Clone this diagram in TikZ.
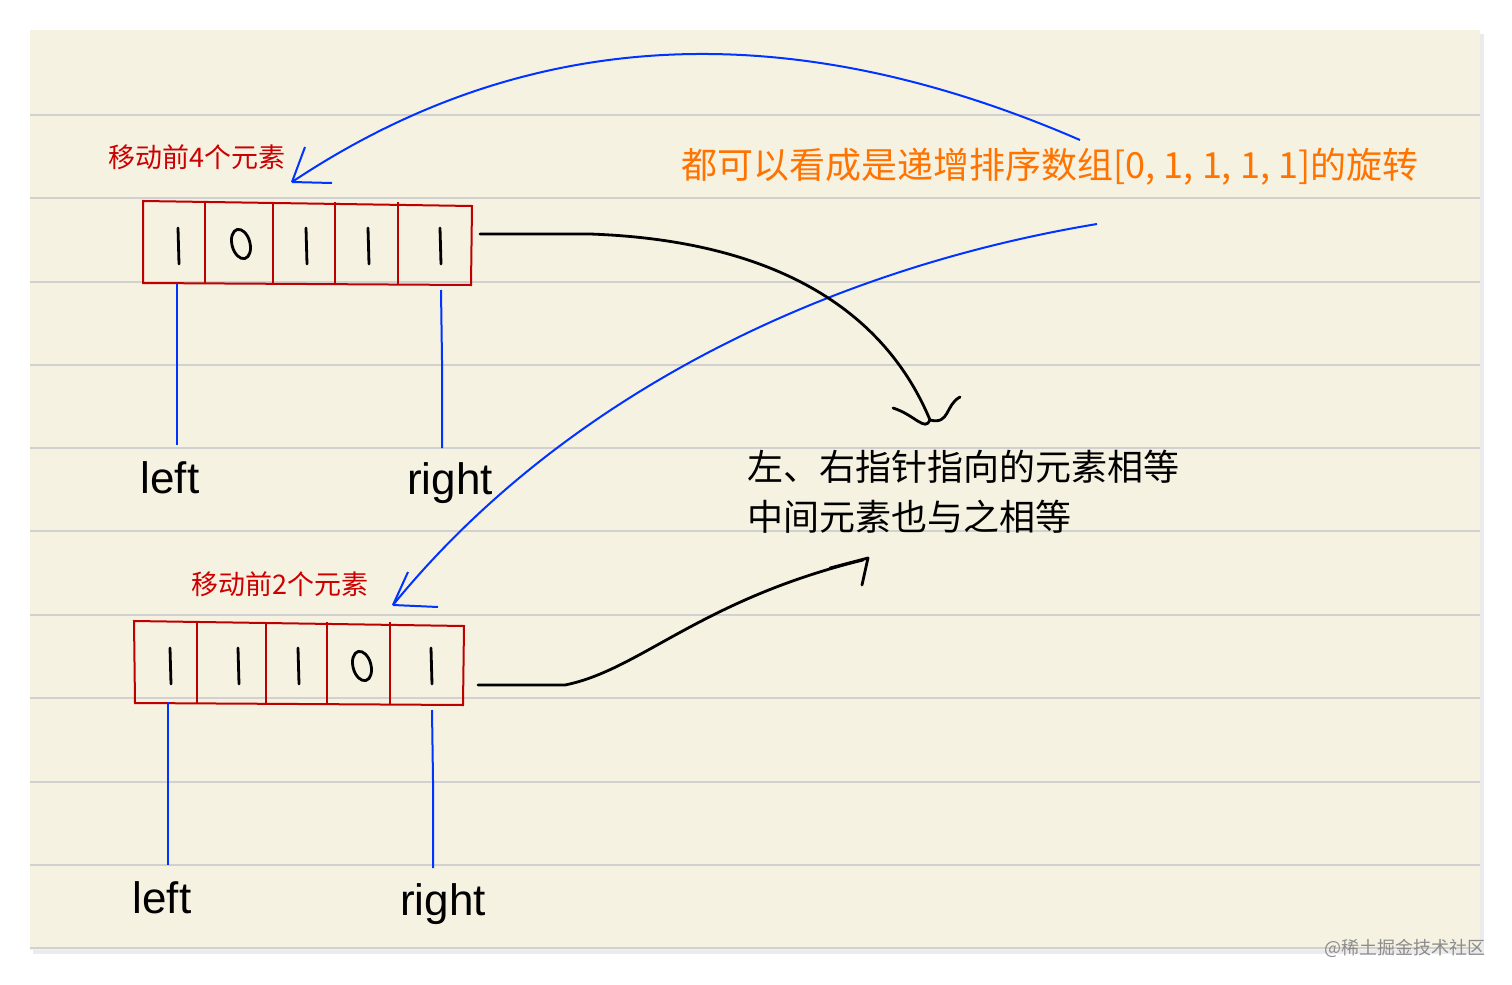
\documentclass[tikz,border=0pt]{standalone}
\usepackage{fontspec}
\setmainfont{Noto Sans CJK SC}
\newfontfamily\latinsans{Liberation Sans}
\definecolor{paper}{HTML}{F5F2E2}
\begin{document}
\begin{tikzpicture}[x=0.5pt,y=-0.5pt,
  cell/.style={draw=red!75!black,line width=1pt},
  ptr/.style={draw=blue!80!cyan,line width=1pt},
  ink/.style={line width=1.4pt,line cap=round,line join=round},
  lbl/.style={font=\latinsans\fontsize{22}{26}\selectfont},
  red lbl/.style={text=red!80!black,font=\fontsize{13.5}{15}\selectfont},
  note/.style={font=\fontsize{18}{25}\selectfont,align=left,anchor=west}]
\useasboundingbox (0,0) rectangle (1512,985);
\fill[white] (0,0) rectangle (1512,985);
\fill[black!8] (33,34) rectangle (1484,954);
\fill[paper] (30,30) rectangle (1480,950);
\foreach \y in {115,198,282,365,448,531,615,698,782,865,948}
  \draw[black!18,line width=0.6pt] (30,\y) -- (1480,\y);
% top array
\draw[cell] (143,201) -- (472,206) -- (471,285) -- (143,283) -- cycle;
\foreach \x in {205,273,335,398} \draw[cell] (\x,202) -- (\x,284);
% bottom array
\draw[cell] (134,621) -- (464,626) -- (463,705) -- (135,703) -- cycle;
\foreach \x in {197,266,327,390} \draw[cell] (\x,622) -- (\x,704);
% digits top
\foreach \x in {178,306,368,440} \draw[ink] (\x,228) -- (\x+1,264);
\draw[ink] (241,244) ellipse [x radius=9,y radius=15,rotate=15];
% digits bottom
\foreach \x in {170,238,298,431} \draw[ink] (\x,648) -- (\x+1,684);
\draw[ink] (362,666) ellipse [x radius=9,y radius=15,rotate=15];
% pointers
\coordinate (p1) at (177,445);
\coordinate (p2) at (442,448);
\coordinate (p3) at (168,865);
\coordinate (p4) at (433,868);
\node[lbl] (l1) at (170,478) {left};
\node[lbl] (r1) at (450,483) {right};
\node[lbl] (l2) at (162,898) {left};
\node[lbl] (r2) at (443,904) {right};
\draw[ptr] (177,284) -- (p1);
\draw[ptr] (441,290) -- (442,360) -- (p2);
\draw[ptr] (168,702) -- (p3);
\draw[ptr] (432,710) -- (433,780) -- (p4);
% labels
\node[red lbl] (t1) at (197,157) {移动前4个元素};
\node[red lbl] (t2) at (280,584) {移动前2个元素};
\node[text=orange!90!red,font=\fontsize{18}{22}\selectfont] (o) at (1050,167) {都可以看成是递增排序数组[0, 1, 1, 1, 1]的旋转};
\node[note] (n) at (740,492) {左、右指针指向的元素相等\\中间元素也与之相等};
\node[text=black!45,font=\fontsize{9}{10}\selectfont] (w) at (1405,948) {@稀土掘金技术社区};
% blue arrows
\coordinate (b1s) at (1080,140);
\coordinate (b1e) at (292,182);
\draw[ptr] (b1s) .. controls (780,10) and (520,30) .. (b1e);
\draw[ptr] (b1e) -- (305,147) (b1e) -- (332,183);
\coordinate (b2s) at (1097,224);
\coordinate (b2e) at (393,605);
\draw[ptr] (b2s) .. controls (820,270) and (560,400) .. (b2e);
\draw[ptr] (b2e) -- (408,572) (b2e) -- (438,607);
% black arrows
\coordinate (k1s) at (480,234);
\coordinate (k1e) at (930,420);
\draw[ink] (k1s) -- (590,234) .. controls (760,240) and (880,300) .. (k1e);
\draw[ink] (893,408) .. controls (915,415) and (925,432) .. (k1e) .. controls (950,425) and (945,405) .. (960,397);
\coordinate (k2s) at (478,685);
\coordinate (k2e) at (863,560);
\draw[ink] (k2s) -- (565,685) .. controls (640,670) and (700,600) .. (k2e);
\draw[ink] (830,568) -- (868,558) -- (862,585);
\end{tikzpicture}
\end{document}
